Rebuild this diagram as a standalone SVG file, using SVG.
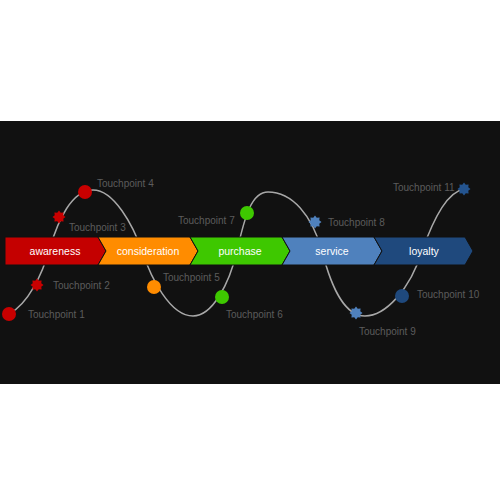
<svg xmlns="http://www.w3.org/2000/svg" xmlns:xlink="http://www.w3.org/1999/xlink" width="500" height="500" viewBox="0 0 500 500">
<style>
.chev{stroke:#111;stroke-width:1}
.ct{font-family:"Liberation Sans",Arial,sans-serif;font-size:10.5px;fill:#fff;text-anchor:middle}
.tl{font-family:"Liberation Sans",Arial,sans-serif;font-size:10px;fill:#5c5c5c}
.curve{fill:none;stroke:#a8a8a8;stroke-width:1.5}
</style>
<defs>
<path id="star" d="M6.5,0 L4.25,1.76 L4.6,4.6 L1.76,4.25 L0,6.5 L-1.76,4.25 L-4.6,4.6 L-4.25,1.76 L-6.5,0 L-4.25,-1.76 L-4.6,-4.6 L-1.76,-4.25 L0,-6.5 L1.76,-4.25 L4.6,-4.6 L4.25,-1.76 Z"/>
</defs>
<rect x="0" y="0" width="500" height="500" fill="#fff"/>
<rect x="0" y="121" width="500" height="263" fill="#111"/>
<g id="connectors">
<path class="curve" d="M9,314 C28,304 42,275 50,248 C58,220 72,190 93,190 C114,190 133,225 142,251 C151,278 170,316 193,316 C212,316 229,285 237,251 C245,215 252,192 268,192 C292,192 312,215 322,251 C332,290 345,316 365,316 C385,316 410,290 422,251 C435,215 448,192 464,189"/>
</g>
<g id="stage-awareness">
<polygon class="chev" fill="#c40000" points="5,237 98,237 106,251 98,265 5,265"/>
<text class="ct" x="55" y="255">awareness</text>
</g>
<g id="stage-consideration">
<polygon class="chev" fill="#ff8c00" points="98,237 190,237 198,251 190,265 98,265 106,251"/>
<text class="ct" x="148" y="255">consideration</text>
</g>
<g id="stage-purchase">
<polygon class="chev" fill="#3ec800" points="190,237 282,237 290,251 282,265 190,265 198,251"/>
<text class="ct" x="240" y="255">purchase</text>
</g>
<g id="stage-service">
<polygon class="chev" fill="#4f81bd" points="282,237 374,237 382,251 374,265 282,265 290,251"/>
<text class="ct" x="332" y="255">service</text>
</g>
<g id="stage-loyalty">
<polygon class="chev" fill="#1f497d" points="374,237 465,237 473,251 465,265 374,265 382,251"/>
<text class="ct" x="424" y="255">loyalty</text>
</g>
<g id="tp1"><circle cx="9" cy="314" r="7" fill="#c80000"/><text class="tl" x="28" y="318">Touchpoint 1</text></g>
<g id="tp2"><use xlink:href="#star" x="37" y="285" fill="#c80000"/><text class="tl" x="53" y="289">Touchpoint 2</text></g>
<g id="tp3"><use xlink:href="#star" x="59" y="217" fill="#c80000"/><text class="tl" x="69" y="231">Touchpoint 3</text></g>
<g id="tp4"><circle cx="85" cy="192" r="7" fill="#c80000"/><text class="tl" x="97" y="187">Touchpoint 4</text></g>
<g id="tp5"><circle cx="154" cy="287" r="7" fill="#ff8c00"/><text class="tl" x="163" y="281">Touchpoint 5</text></g>
<g id="tp6"><circle cx="222" cy="297" r="7" fill="#3ec800"/><text class="tl" x="226" y="318">Touchpoint 6</text></g>
<g id="tp7"><circle cx="247" cy="213" r="7" fill="#3ec800"/><text class="tl" x="178" y="224">Touchpoint 7</text></g>
<g id="tp8"><use xlink:href="#star" x="315" y="222" fill="#4f81bd"/><text class="tl" x="328" y="226">Touchpoint 8</text></g>
<g id="tp9"><use xlink:href="#star" x="356" y="313" fill="#4f81bd"/><text class="tl" x="359" y="335">Touchpoint 9</text></g>
<g id="tp10"><circle cx="402" cy="296" r="7" fill="#1f497d"/><text class="tl" x="417" y="298">Touchpoint 10</text></g>
<g id="tp11"><use xlink:href="#star" x="464" y="189" fill="#24548f"/><text class="tl" x="393" y="191">Touchpoint 11</text></g>
</svg>
